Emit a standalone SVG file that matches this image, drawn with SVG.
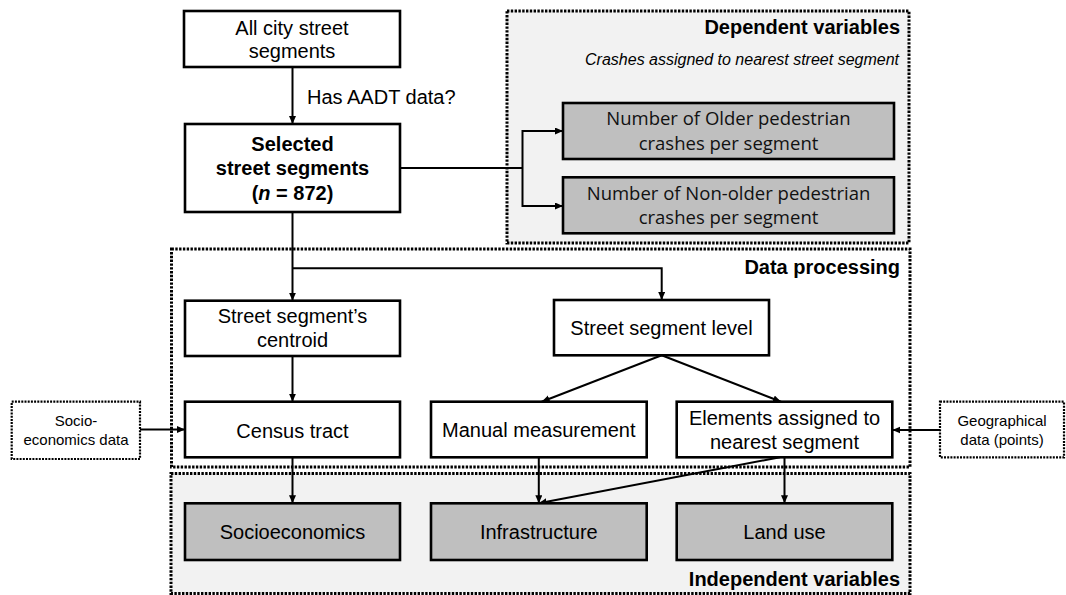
<svg xmlns="http://www.w3.org/2000/svg" width="1066" height="595" viewBox="0 0 1066 595">
<style>
  .t { font-family: "Liberation Sans", Arial, sans-serif; font-size: 20px; fill: #000; text-anchor: middle; }
  .b { font-weight: bold; }
  .s { font-size: 15px; }
  .h { font-family: "Liberation Sans", Arial, sans-serif; font-size: 20px; font-weight: bold; text-anchor: end; }
  .it { font-family: "Liberation Sans", Arial, sans-serif; font-size: 16px; font-style: italic; text-anchor: end; }
  .ap { font-family: "Open Sans", "Noto Sans", sans-serif; font-size: 18.5px; text-anchor: middle; fill: #111; }
  .box { fill: #fff; stroke: #000; stroke-width: 2.6; }
  .gbox { fill: #bfbfbf; stroke: #000; stroke-width: 2.6; }
  .grp { fill: #f2f2f2; stroke: #000; stroke-width: 3; stroke-dasharray: 2.4 1.4; }
  .grpw { fill: none; stroke: #000; stroke-width: 3; stroke-dasharray: 2.4 1.4; }
  .ext { fill: #fff; stroke: #000; stroke-width: 2.2; stroke-dasharray: 2 1.2; }
  .c { fill: none; stroke: #000; stroke-width: 2; }
  .ca { fill: none; stroke: #000; stroke-width: 2; marker-end: url(#ah); }
</style>
<defs>
  <marker id="ah" markerUnits="userSpaceOnUse" markerWidth="9" markerHeight="8" refX="8" refY="3.5" orient="auto">
    <path d="M0,0 L8,3.5 L0,7 z" fill="#000"/>
  </marker>
</defs>

<g id="groups">
  <rect id="dependent-group" class="grp" x="507" y="11" width="402" height="232"/>
  <rect id="independent-group" class="grp" x="171" y="473.5" width="739" height="120"/>
  <rect id="processing-group" class="grpw" x="171.5" y="249" width="738.5" height="218"/>
  <text class="h" x="900" y="34">Dependent variables</text>
  <text class="it" x="899" y="65">Crashes assigned to nearest street segment</text>
  <text class="h" x="900" y="274">Data processing</text>
  <text class="h" x="900" y="586">Independent variables</text>
</g>

<g id="connectors">
  <path class="ca" d="M292.5,67 V124"/>
  <path class="c" d="M400,168 H522.5"/>
  <path class="ca" d="M522.5,168 V131 H563"/>
  <path class="ca" d="M522.5,168 V206 H563"/>
  <path class="ca" d="M292.5,212 V300.7"/>
  <path class="ca" d="M292.5,268.3 H661.7 V300"/>
  <path class="ca" d="M292.5,356 V401.7"/>
  <path class="ca" d="M661.7,355.3 L541.7,401.7"/>
  <path class="ca" d="M661.7,355.3 L781,401.7"/>
  <path class="ca" d="M140,429.5 H185"/>
  <path class="ca" d="M940,430 H892.3"/>
  <path class="ca" d="M292.5,457.3 V503.3"/>
  <path class="ca" d="M538.8,457.3 V503.3"/>
  <path class="ca" d="M784.5,457.3 V503.3"/>
  <path class="ca" d="M780,457.3 L538.8,503.3"/>
  <text class="t" x="307" y="104" style="text-anchor:start">Has AADT data?</text>
</g>

<g id="node-all">
  <rect class="box" x="184" y="11" width="216" height="56"/>
  <text class="t" x="292" y="34.5">All city street</text>
  <text class="t" x="292" y="58">segments</text>
</g>
<g id="node-selected">
  <rect class="box" x="185" y="124" width="215" height="88"/>
  <text class="t b" x="292.5" y="150.5">Selected</text>
  <text class="t b" x="292.5" y="175">street segments</text>
  <text class="t b" x="292.5" y="199.5">(<tspan font-style="italic">n</tspan> = 872)</text>
</g>
<g id="node-older">
  <rect class="gbox" x="563" y="103" width="331" height="56"/>
  <text class="ap" x="728.5" y="125">Number of Older pedestrian</text>
  <text class="ap" x="728.5" y="149.5">crashes per segment</text>
</g>
<g id="node-nonolder">
  <rect class="gbox" x="563" y="177.3" width="331" height="56"/>
  <text class="ap" x="728.5" y="199.5">Number of Non-older pedestrian</text>
  <text class="ap" x="728.5" y="223.5">crashes per segment</text>
</g>
<g id="node-centroid">
  <rect class="box" x="185" y="300.7" width="215" height="55.3"/>
  <text class="t" x="292.5" y="323.3">Street segment’s</text>
  <text class="t" x="292.5" y="347.3">centroid</text>
</g>
<g id="node-level">
  <rect class="box" x="554" y="300" width="215" height="55.3"/>
  <text class="t" x="661.5" y="335">Street segment level</text>
</g>
<g id="node-socio-data">
  <rect class="ext" x="11.7" y="401.7" width="128.3" height="57.3"/>
  <text class="t s" x="76" y="426.2">Socio-</text>
  <text class="t s" x="76" y="445.2">economics data</text>
</g>
<g id="node-census">
  <rect class="box" x="185" y="401.7" width="215" height="55.6"/>
  <text class="t" x="292.5" y="438">Census tract</text>
</g>
<g id="node-manual">
  <rect class="box" x="431" y="401.7" width="215.7" height="55.6"/>
  <text class="t" x="538.8" y="436.5">Manual measurement</text>
</g>
<g id="node-elements">
  <rect class="box" x="676.7" y="401.7" width="215.6" height="55.6"/>
  <text class="t" x="784.5" y="424.5">Elements assigned to</text>
  <text class="t" x="784.5" y="448.5">nearest segment</text>
</g>
<g id="node-geo-data">
  <rect class="ext" x="940" y="401.7" width="124" height="55.6"/>
  <text class="t s" x="1002" y="426.2">Geographical</text>
  <text class="t s" x="1002" y="445.2">data (points)</text>
</g>
<g id="node-socioeconomics">
  <rect class="gbox" x="185" y="503.3" width="215" height="56.7"/>
  <text class="t" x="292.5" y="538.8">Socioeconomics</text>
</g>
<g id="node-infrastructure">
  <rect class="gbox" x="431" y="503.3" width="215.7" height="56.7"/>
  <text class="t" x="538.8" y="538.8">Infrastructure</text>
</g>
<g id="node-landuse">
  <rect class="gbox" x="676.7" y="503.3" width="215.6" height="56.7"/>
  <text class="t" x="784.5" y="538.8">Land use</text>
</g>
</svg>
